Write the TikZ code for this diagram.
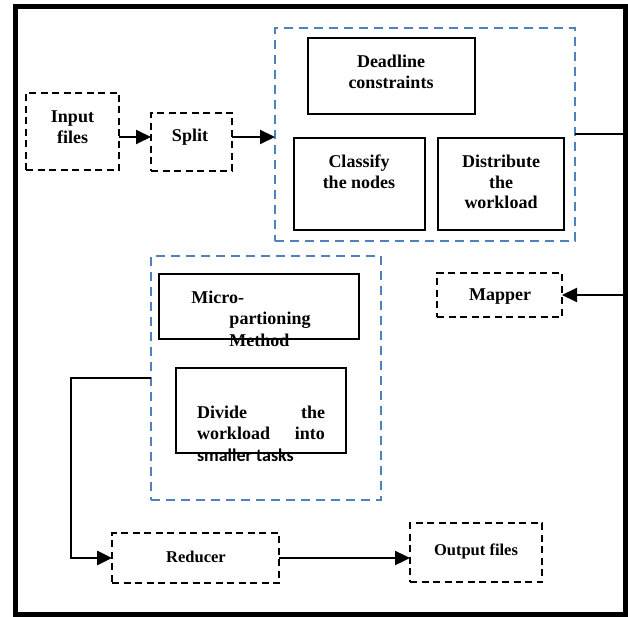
\documentclass[tikz,border=0pt]{standalone}
\usepackage{fontspec}
\setmainfont{Liberation Serif}
\newfontfamily\carlito{Carlito}
\usetikzlibrary{arrows.meta,calc}
\definecolor{dblue}{RGB}{79,129,189}
\begin{document}
\begin{tikzpicture}[x=1pt,y=-1pt,
  base/.style={inner sep=0pt,outer sep=0pt},
  dbox/.style={base,draw,line width=1.8pt,dash pattern=on 7pt off 4.5pt},
  sbox/.style={base,draw,line width=1.6pt},
  bbox/.style={base,draw=dblue,line width=2pt,dash pattern=on 9pt off 6pt},
  txt/.style={inner sep=0pt,font=\fontsize{18}{20.5}\selectfont\bfseries,align=center},
  stxt/.style={inner sep=0pt,font=\fontsize{16.5}{19}\selectfont\bfseries,align=center},
  wire/.style={line width=2pt},
  conn/.style={wire,-{Triangle[length=15pt,width=14pt]}}]
\useasboundingbox (0,0) rectangle (628,617);
\node[base,draw,line width=5pt,minimum width=610pt,minimum height=607pt] (frame) at (320,310.5) {};
% boxes
\node[dbox,minimum width=93pt,minimum height=77pt] (input) at (72.5,131.5) {};
\node[dbox,minimum width=81pt,minimum height=58pt] (split) at (191.5,142) {};
\node[bbox,minimum width=300pt,minimum height=213pt] (blue1) at (425,134.5) {};
\node[sbox,minimum width=167pt,minimum height=76pt] (deadline) at (391.5,76) {};
\node[sbox,minimum width=131pt,minimum height=92pt] (classify) at (359.5,184) {};
\node[sbox,minimum width=126pt,minimum height=92pt] (distribute) at (501,184) {};
\node[dbox,minimum width=125pt,minimum height=44pt] (mapper) at (499.5,295) {};
\node[bbox,minimum width=230pt,minimum height=244pt] (blue2) at (266,378) {};
\node[sbox,minimum width=200pt,minimum height=65pt] (micro) at (259,306.5) {};
\node[sbox,minimum width=170pt,minimum height=85pt] (divide) at (261,410.5) {};
\node[dbox,minimum width=167pt,minimum height=50pt] (reducer) at (195.5,558) {};
\node[dbox,minimum width=132pt,minimum height=59pt] (output) at (476,552.5) {};
% texts
\node[txt] (inputt) at (72.5,127) {Input\\files};
\node[txt] (splitt) at (190,137) {Split};
\node[txt] (deadlinet) at (391,72) {Deadline\\constraints};
\node[txt] (classifyt) at (359,172) {Classify\\the nodes};
\node[txt] (distributet) at (501,182) {Distribute\\the\\workload};
\node[txt] (mappert) at (500,297) {Mapper};
\node[txt,align=left,font=\fontsize{18}{21.5}\selectfont\bfseries] (microt) at (251,318.5) {Micro-\\\hspace*{38pt}partioning\\\hspace*{38pt}Method};
\node[txt,align=left,font=\fontsize{18}{21.5}\selectfont\bfseries] (dividet) at (261,433.5) {\makebox[128pt]{Divide\hfill the}\\\makebox[128pt]{workload\hfill into}\\\makebox[128pt][l]{\carlito\bfseries smaller tasks}};
\node[stxt] (reducert) at (196,557) {Reducer};
\node[stxt] (outputt) at (476,551) {Output files};
% connectors
\draw[conn] ([yshift=-5.5pt]input.east) -- ([yshift=-5.5pt]input.east -| split.west);
\draw[conn] ([yshift=5pt]split.east) -- ([yshift=5pt]split.east -| blue1.west);
\draw[wire] (blue1.east) -- (blue1.east -| frame.east);
\draw[conn] (mapper.east -| frame.east) -- (mapper.east);
\coordinate (bend) at (71,378);
\draw[conn,line width=2.6pt] (blue2.west) -- (bend) |- (reducer.west);
\draw[conn,line width=2.4pt] (reducer.east) -- (reducer.east -| output.west);
\end{tikzpicture}
\end{document}
